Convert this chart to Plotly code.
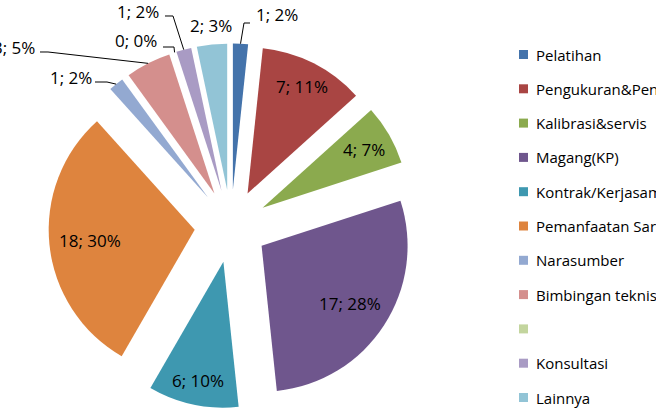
import math
import plotly.graph_objects as go

categories = ["Pelatihan", "Pengukuran&Pengujian", "Kalibrasi&servis", "Magang(KP)",
              "Kontrak/Kerjasama", "Pemanfaatan Sarana", "Narasumber", "Bimbingan teknis",
              " ", "Konsultasi", "Lainnya"]
values = [1, 7, 4, 17, 6, 18, 1, 3, 0, 1, 2]
percents = ["2%", "11%", "7%", "28%", "10%", "30%", "2%", "5%", "0%", "2%", "3%"]
colors = ["#4473AB", "#A94543", "#8BAA4E", "#6F568D", "#3E98B0", "#DE843E",
          "#93A9D1", "#D48F8D", "#C3D59E", "#A99BC4", "#92C4D6"]

labels_text = [f"{v}; {p}" for v, p in zip(values, percents)]

W, H = 656, 412
PULL = 0.25
DOM_X = [0.0739, 0.6303]
DOM_Y = [0.0086, 0.8945]
FONT = "Open Sans"

fig = go.Figure(go.Pie(
    labels=categories, values=values,
    textinfo="none",
    sort=False, direction="clockwise", rotation=0,
    pull=[PULL] * len(values),
    marker=dict(colors=colors, line=dict(width=0)),
    domain=dict(x=DOM_X, y=DOM_Y),
    showlegend=False, hoverinfo="label+value+percent",
))

# geometry of the pie (pixels), derived from the domain and the values
cx = W * (DOM_X[0] + DOM_X[1]) / 2
cy = H * (1 - (DOM_Y[0] + DOM_Y[1]) / 2)
R = min(W * (DOM_X[1] - DOM_X[0]), H * (DOM_Y[1] - DOM_Y[0])) / 2 / (1 + PULL)
total = sum(values)


def px2paper(x, y):
    return x / W, 1 - y / H


def slice_point(i, frac):
    """Point on slice i's bisector, at frac*R from its (pulled) apex."""
    before = sum(values[:i])
    mid = (before + values[i] / 2) / total * 2 * math.pi
    d = R * (PULL + frac)
    return cx + d * math.sin(mid), cy - d * math.cos(mid)


# inside labels: radial position as a fraction of the radius
inside_layout = {1: 0.82, 2: 0.80, 3: 0.72, 4: 0.83, 5: 0.72}
for i, frac in inside_layout.items():
    x, y = px2paper(*slice_point(i, frac))
    fig.add_annotation(x=x, y=y, xref="paper", yref="paper", text=labels_text[i],
                       showarrow=False, xanchor="center", yanchor="middle",
                       font=dict(family=FONT, size=17, color="#000000"))

# outside labels (pixels): label centre and the elbow of its leader line
outside_layout = {
    0: dict(pos=(277, 15), path=[(250, 23), (244, 23)]),
    10: dict(pos=(211, 26), path=None),
    9: dict(pos=(138, 12), path=[(165, 16), (173, 16)]),
    8: dict(pos=(136, 41), path=[(163, 47), (174, 47)]),
    7: dict(pos=(14, 47), path=[(40, 52), (48, 52)]),
    6: dict(pos=(71, 77), path=[(95, 82), (107, 82)]),
}
for i, spec in outside_layout.items():
    x, y = px2paper(*spec["pos"])
    fig.add_annotation(x=x, y=y, xref="paper", yref="paper", text=labels_text[i],
                       showarrow=False, xanchor="center", yanchor="middle",
                       font=dict(family=FONT, size=17, color="#000000"))
    if spec["path"]:
        pts = [px2paper(*p) for p in spec["path"]] + [px2paper(*slice_point(i, 1.0))]
        path = "M " + " L ".join(f"{a:.5f},{b:.5f}" for a, b in pts)
        fig.add_shape(type="path", path=path, xref="paper", yref="paper",
                      line=dict(color="#000000", width=1))

# legend drawn at the right side
for i, (name, col) in enumerate(zip(categories, colors)):
    ytop = 50 + i * 34.3
    x0, y0 = px2paper(519, ytop + 9)
    x1, y1 = px2paper(528, ytop)
    fig.add_shape(type="rect", xref="paper", yref="paper", x0=x0, x1=x1, y0=y0, y1=y1,
                  fillcolor=col, line=dict(width=0))
    tx, ty = px2paper(534, ytop + 4.5)
    fig.add_annotation(x=tx, y=ty, xref="paper", yref="paper",
                       text=name, showarrow=False, xanchor="left", yanchor="middle",
                       font=dict(family=FONT, size=15, color="#000000"))

fig.update_layout(width=W, height=H,
                  margin=dict(l=0, r=0, t=0, b=0, autoexpand=False),
                  paper_bgcolor="white", plot_bgcolor="white")
fig.write_html("out.html", config={"displayModeBar": False},
               post_script="document.body.style.margin='0';")
